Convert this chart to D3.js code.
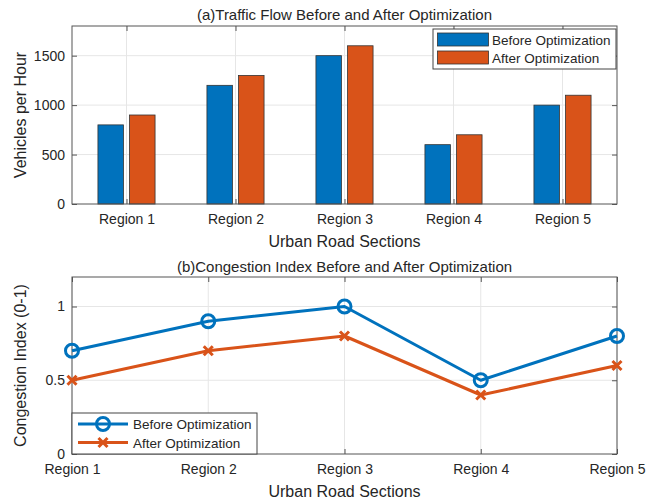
<!DOCTYPE html>
<html>
<head>
<meta charset="utf-8">
<script src="https://cdn.jsdelivr.net/npm/d3@7"></script>
<style>
  html, body { margin: 0; padding: 0; background: #fff; }
  svg { display: block; font-family: "Liberation Sans", Arial, sans-serif; }
</style>
</head>
<body>
<svg id="chart" width="649" height="503"></svg>
<script>
// Data
const regions = ["Region 1", "Region 2", "Region 3", "Region 4", "Region 5"];
const seriesNames = ["Before Optimization", "After Optimization"];
const flowBefore = [800, 1200, 1500, 600, 1000];
const flowAfter = [900, 1300, 1600, 700, 1100];
const congestionBefore = [0.7, 0.9, 1.0, 0.5, 0.8];
const congestionAfter = [0.5, 0.7, 0.8, 0.4, 0.6];
const flowTicks = [0, 500, 1000, 1500];
const congestionTicks = [0, 0.5, 1];

const colors = ["#0072BD", "#D95319"];
const axisColor = "#555";
const gridColor = "#e6e6e6";

const svg = d3.select("#chart");

// ---------- Panel (a): grouped bars ----------
const A = { left: 72, right: 617, top: 26, bottom: 204 };
const xa = d3.scaleLinear().domain([0.5, 5.5]).range([A.left, A.right]);
const ya = d3.scaleLinear().domain([0, 1800]).range([A.bottom, A.top]);
const ga = svg.append("g");

// grid
ga.append("g").selectAll("line.v").data(regions).join("line")
  .attr("x1", (d, i) => xa(i + 1)).attr("x2", (d, i) => xa(i + 1))
  .attr("y1", A.top).attr("y2", A.bottom)
  .attr("stroke", gridColor).attr("stroke-width", 1);
ga.append("g").selectAll("line.h").data(flowTicks.filter(t => t > 0)).join("line")
  .attr("x1", A.left).attr("x2", A.right)
  .attr("y1", d => ya(d)).attr("y2", d => ya(d))
  .attr("stroke", gridColor).attr("stroke-width", 1);

// bars
const barW = 0.234, barOff = 0.145;
[flowBefore, flowAfter].forEach((vals, s) => {
  ga.append("g").selectAll("rect").data(vals).join("rect")
    .attr("x", (d, i) => xa(i + 1 + (s === 0 ? -barOff : barOff) - barW / 2))
    .attr("width", xa(barW) - xa(0))
    .attr("y", d => ya(d))
    .attr("height", d => ya(0) - ya(d))
    .attr("fill", colors[s])
    .attr("stroke", "#333").attr("stroke-width", 0.8);
});

// axes (box with inward ticks)
function drawBox(g, P) {
  g.append("rect").attr("x", P.left).attr("y", P.top)
    .attr("width", P.right - P.left).attr("height", P.bottom - P.top)
    .attr("fill", "none").attr("stroke", axisColor).attr("stroke-width", 1);
}
const axLeftA = d3.axisLeft(ya).tickValues(flowTicks).tickSize(-5).tickPadding(7).tickFormat(d3.format("d"));
const axRightA = d3.axisRight(ya).tickValues(flowTicks).tickSize(-5).tickFormat("");
const axBottomA = d3.axisBottom(xa).tickValues([1, 2, 3, 4, 5]).tickSize(-5).tickPadding(10).tickFormat((d) => regions[d - 1]);
const axTopA = d3.axisTop(xa).tickValues([1, 2, 3, 4, 5]).tickSize(-5).tickFormat("");
function styleAxis(sel, fs) {
  sel.select(".domain").remove();
  sel.selectAll(".tick line").attr("stroke", axisColor);
  sel.selectAll(".tick text").attr("fill", "#262626").attr("font-size", fs).attr("font-family", "Liberation Sans, Arial, sans-serif");
}
ga.append("g").attr("transform", `translate(${A.left},0)`).call(axLeftA).call(s => styleAxis(s, 14));
ga.append("g").attr("transform", `translate(${A.right},0)`).call(axRightA).call(s => styleAxis(s, 14));
ga.append("g").attr("transform", `translate(0,${A.bottom})`).call(axBottomA).call(s => styleAxis(s, 14));
ga.append("g").attr("transform", `translate(0,${A.top})`).call(axTopA).call(s => styleAxis(s, 14));
drawBox(ga, A);

// titles and labels
ga.append("text").attr("x", (A.left + A.right) / 2).attr("y", 20)
  .attr("text-anchor", "middle").attr("font-size", 15).attr("fill", "#262626")
  .text("(a)Traffic Flow Before and After Optimization");
ga.append("text").attr("x", (A.left + A.right) / 2).attr("y", 247)
  .attr("text-anchor", "middle").attr("font-size", 16).attr("fill", "#262626")
  .text("Urban Road Sections");
ga.append("text").attr("transform", `translate(26,${(A.top + A.bottom) / 2}) rotate(-90)`)
  .attr("text-anchor", "middle").attr("font-size", 16).attr("fill", "#262626")
  .text("Vehicles per Hour");

// legend (a)
const legA = ga.append("g");
legA.append("rect").attr("x", 433).attr("y", 29).attr("width", 183).attr("height", 40)
  .attr("fill", "#fff").attr("stroke", "#444").attr("stroke-width", 1);
seriesNames.forEach((name, i) => {
  const yy = 33 + i * 18;
  legA.append("rect").attr("x", 437.5).attr("y", yy).attr("width", 51).attr("height", 13)
    .attr("fill", colors[i]).attr("stroke", "#333").attr("stroke-width", 0.8);
  legA.append("text").attr("x", 492).attr("y", yy + 11.5)
    .attr("font-size", 13.5).attr("fill", "#262626").text(name);
});

// ---------- Panel (b): lines with markers ----------
const B = { left: 72, right: 617, top: 277, bottom: 454 };
const xb = d3.scaleLinear().domain([1, 5]).range([B.left, B.right]);
const yb = d3.scaleLinear().domain([0, 1.2]).range([B.bottom, B.top]);
const gb = svg.append("g");

gb.append("g").selectAll("line").data([1, 2, 3, 4, 5]).join("line")
  .attr("x1", d => xb(d)).attr("x2", d => xb(d))
  .attr("y1", B.top).attr("y2", B.bottom)
  .attr("stroke", gridColor).attr("stroke-width", 1);
gb.append("g").selectAll("line").data(congestionTicks.filter(t => t > 0)).join("line")
  .attr("x1", B.left).attr("x2", B.right)
  .attr("y1", d => yb(d)).attr("y2", d => yb(d))
  .attr("stroke", gridColor).attr("stroke-width", 1);

const axLeftB = d3.axisLeft(yb).tickValues(congestionTicks).tickSize(-5).tickPadding(7).tickFormat(d => d === 0 ? "0" : (d === 1 ? "1" : String(d)));
const axRightB = d3.axisRight(yb).tickValues(congestionTicks).tickSize(-5).tickFormat("");
const axBottomB = d3.axisBottom(xb).tickValues([1, 2, 3, 4, 5]).tickSize(-5).tickPadding(10).tickFormat(d => regions[d - 1]);
const axTopB = d3.axisTop(xb).tickValues([1, 2, 3, 4, 5]).tickSize(-5).tickFormat("");
gb.append("g").attr("transform", `translate(${B.left},0)`).call(axLeftB).call(s => styleAxis(s, 14));
gb.append("g").attr("transform", `translate(${B.right},0)`).call(axRightB).call(s => styleAxis(s, 14));
gb.append("g").attr("transform", `translate(0,${B.bottom})`).call(axBottomB).call(s => styleAxis(s, 14));
gb.append("g").attr("transform", `translate(0,${B.top})`).call(axTopB).call(s => styleAxis(s, 14));
drawBox(gb, B);

const line = d3.line().x((d, i) => xb(i + 1)).y(d => yb(d));
function drawSeries(vals, s, marker) {
  gb.append("path").datum(vals).attr("d", line)
    .attr("fill", "none").attr("stroke", colors[s]).attr("stroke-width", 3)
    .attr("stroke-linejoin", "round");
  const m = gb.append("g").selectAll("g").data(vals).join("g")
    .attr("transform", (d, i) => `translate(${xb(i + 1)},${yb(d)})`);
  marker(m, colors[s]);
}
function circleMarker(sel, c) {
  sel.append("circle").attr("r", 6.5).attr("fill", "none").attr("stroke", c).attr("stroke-width", 3);
}
function crossMarker(sel, c) {
  const k = 4.5;
  sel.append("path").attr("d", `M${-k},${-k}L${k},${k}M${-k},${k}L${k},${-k}`)
    .attr("stroke", c).attr("stroke-width", 3).attr("fill", "none");
}
drawSeries(congestionBefore, 0, circleMarker);
drawSeries(congestionAfter, 1, crossMarker);

gb.append("text").attr("x", (B.left + B.right) / 2).attr("y", 272)
  .attr("text-anchor", "middle").attr("font-size", 15).attr("fill", "#262626")
  .text("(b)Congestion Index Before and After Optimization");
gb.append("text").attr("x", (B.left + B.right) / 2).attr("y", 497)
  .attr("text-anchor", "middle").attr("font-size", 16).attr("fill", "#262626")
  .text("Urban Road Sections");
gb.append("text").attr("transform", `translate(26,${(B.top + B.bottom) / 2}) rotate(-90)`)
  .attr("text-anchor", "middle").attr("font-size", 16).attr("fill", "#262626")
  .text("Congestion Index (0-1)");

// legend (b)
const legB = gb.append("g");
legB.append("rect").attr("x", 72).attr("y", 413).attr("width", 185).attr("height", 41)
  .attr("fill", "#fff").attr("stroke", "#444").attr("stroke-width", 1);
[circleMarker, crossMarker].forEach((mk, i) => {
  const yy = 424 + i * 18.5;
  legB.append("line").attr("x1", 78).attr("x2", 128).attr("y1", yy).attr("y2", yy)
    .attr("stroke", colors[i]).attr("stroke-width", 3);
  mk(legB.append("g").attr("transform", `translate(103,${yy})`), colors[i]);
  legB.append("text").attr("x", 133).attr("y", yy + 5)
    .attr("font-size", 13.5).attr("fill", "#262626").text(seriesNames[i]);
});
</script>
</body>
</html>
